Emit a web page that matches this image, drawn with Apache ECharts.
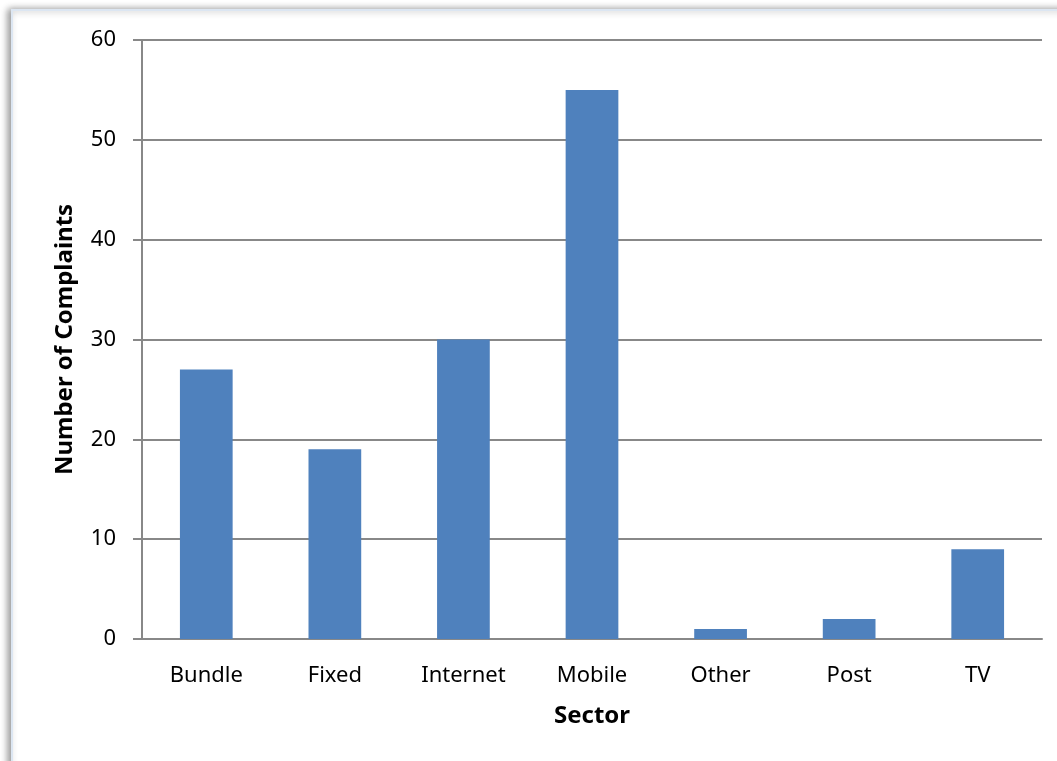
<!DOCTYPE html>
<html><head><meta charset="utf-8">
<script src="https://cdn.jsdelivr.net/npm/echarts@6/dist/echarts.min.js"></script>
<style>html,body{margin:0;padding:0;background:#fff}#c{width:1057px;height:761px}</style>
</head><body><div id="c"></div>
<script>
const categories = ['Bundle','Fixed','Internet','Mobile','Other','Post','TV'];
const complaints = [27,19,30,55,1,2,9];
const yTicks = [0,10,20,30,40,50,60];

const chart = echarts.init(document.getElementById('c'));
chart.setOption({
  animation:false,
  backgroundColor:'#fff',
  graphic:[
    {type:'rect', shape:{x:12,y:10,width:1100,height:800}, z:-10,
     style:{fill:'#fff', stroke:'#dce6f2', lineWidth:2, shadowColor:'rgba(0,0,0,0.4)', shadowBlur:7, shadowOffsetX:-3, shadowOffsetY:0}}
  ],
  grid:{left:142, right:15, top:40, bottom:122, containLabel:false},
  xAxis:{type:'category', data:categories, name:'Sector', nameLocation:'middle', nameGap:65,
    nameTextStyle:{fontFamily:'Noto Sans', fontSize:24, fontWeight:'bold', color:'#000'},
    axisLine:{lineStyle:{color:'#888', width:2}}, axisTick:{show:false},
    axisLabel:{fontFamily:'Noto Sans', fontSize:22, color:'#000', margin:26}},
  yAxis:{type:'value', min:0, max:60, interval:10, name:'Number of Complaints', nameLocation:'middle', nameGap:65,
    nameTextStyle:{fontFamily:'Noto Sans', fontSize:24, fontWeight:'bold', color:'#000'},
    axisLine:{show:true, lineStyle:{color:'#888', width:2}},
    axisTick:{show:true, length:9, lineStyle:{color:'#888', width:2}},
    axisLabel:{fontFamily:'Noto Sans', fontSize:22, color:'#000', margin:26,
      formatter:v=>yTicks.includes(v)?String(v):''},
    splitLine:{lineStyle:{color:'#888', width:2}}},
  series:[{type:'bar', data:complaints, barWidth:'41%', itemStyle:{color:'#4f81bd'}}]
});
</script></body></html>
